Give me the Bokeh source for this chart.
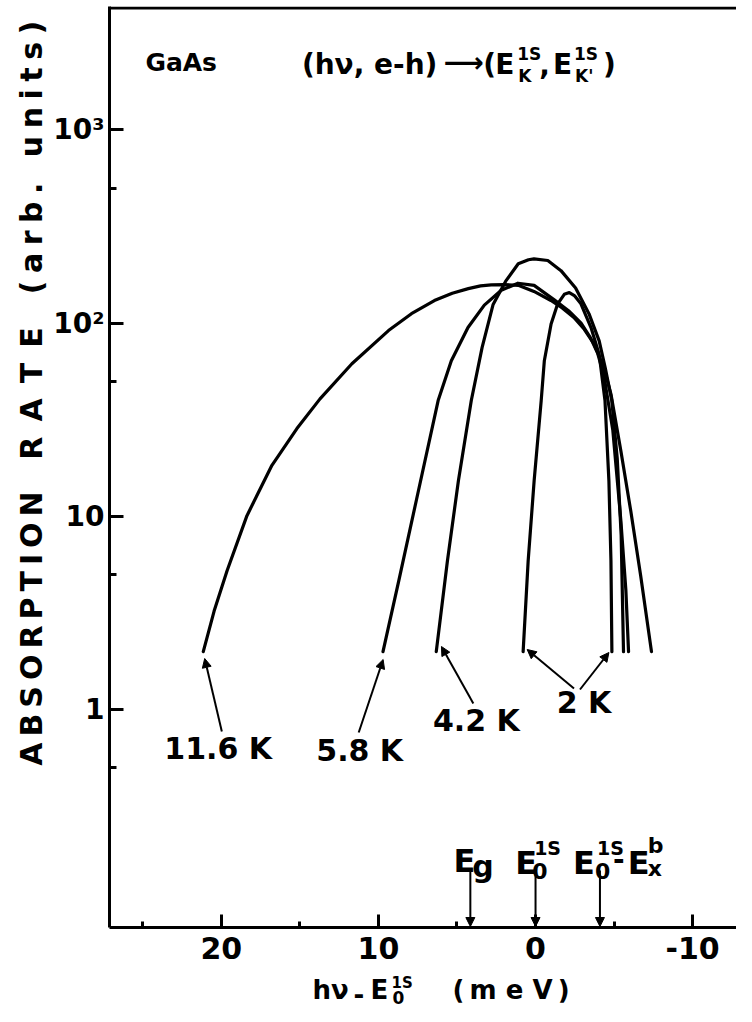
import math
from bokeh.plotting import figure
from bokeh.layouts import column, row
from bokeh.models import Range1d, FixedTicker, Label, Arrow, NormalHead, Span
from bokeh.embed import file_html
from bokeh.resources import INLINE

# ---------------- data ----------------
# x : h nu - E0(1S) in meV  (axis reversed),  y : absorption rate (arb. units, log)
x_116 = [21.15, 20.46, 19.63, 18.37, 16.78, 15.19, 13.72, 11.69, 9.36, 7.9, 6.44, 5.3,
         4.28, 3.5, 2.82, 2.0, 1.10, 0.1, -0.98, -1.7, -2.44, -3.1, -3.71, -4.35,
         -4.80, -5.43, -6.06, -6.69, -7.38]
y_116 = [2.0, 3.24, 5.26, 10.1, 18.4, 28.5, 40.6, 61.7, 91.6, 112, 131, 143,
         151, 156, 158, 158.5, 157, 146, 131, 120, 107, 93, 78.5, 59,
         43, 21.9, 10.7, 4.95, 2.0]

x_58 = [9.71, 8.70, 7.59, 6.20, 5.36, 4.30, 3.26, 2.18, 1.12, 0.09, -1.19, -2.1,
        -2.9, -3.5, -3.95, -4.35, -4.92, -5.43, -5.75, -5.92]
y_58 = [2.0, 4.67, 12.1, 39.8, 64, 95, 124, 148, 161, 157, 132, 116,
        100, 84, 70, 53.6, 27.9, 9.55, 4.15, 2.0]

x_42 = [6.32, 5.61, 4.91, 4.09, 3.4, 2.7, 1.9, 1.1, 0.45, 0.1, -0.78, -1.62,
        -2.55, -3.4, -4.05, -4.45, -4.85, -5.2, -5.45, -5.6]
y_42 = [2.0, 5.89, 15.3, 39.8, 75, 125, 165, 203, 213, 215, 211, 187,
        152, 112, 81, 58, 40, 20, 8, 2.0]

x_2 = [0.79, 0.47, 0.09, -0.36, -0.56, -0.99, -1.41, -1.83, -2.15, -2.47, -2.89,
       -3.53, -4.05, -4.42, -4.67, -4.80, -4.86]
y_2 = [2.0, 5.89, 15.3, 39.8, 64, 99, 126, 141, 144, 139, 126,
       95, 69, 39.8, 15.3, 5.9, 2.0]

curve_labels = ["11.6 K", "5.8 K", "4.2 K", "2 K"]

x_ticks = [20, 10, 0, -10]
x_minor = [25, 15, 5, -5]
x_tick_labels = ["20", "10", "0", "-10"]
y_ticks = [1, 10, 100, 1000]
y_minor = [0.5, 5, 50, 500]
y_tick_labels = ["1", "10", "10²", "10³"]

marker_x = [4.15, 0.0, -4.1]          # E_g, E_0^1S, E_0^1S - E_x^b

# ---------------- geometry ----------------
W, H = 736, 1006          # whole picture
WL = 50                   # strip holding the y-axis title
HM = 972                  # height of the plotting figure
FL, FR, FT, FB = 107, 736, 6, 927   # frame edges (picture pixels)
X0_PX, PX_PER_MEV = 534.4, 15.76
Y1_PX, PX_PER_DEC = 709.3, 193.3
DESC = 0.236              # DejaVu Sans descent (em)


def X(px):
    return (X0_PX - px) / PX_PER_MEV


def Y(py):
    return 10 ** ((Y1_PX - py) / PX_PER_DEC)


FONT = "DejaVu Sans"

p = figure(width=W - WL, height=HM, x_range=Range1d(X(FL), X(FR)),
           y_range=Range1d(Y(FB), Y(FT)), y_axis_type="log",
           output_backend="svg", toolbar_location=None,
           min_border_left=FL - WL, min_border_right=0, min_border_top=FT,
           min_border_bottom=HM - FB)
p.outline_line_color = None
p.grid.visible = False
p.background_fill_color = "white"
p.border_fill_color = "white"

for ax in (p.xaxis[0], p.yaxis[0]):
    ax.axis_line_width = 3
    ax.major_tick_line_width = 3
    ax.minor_tick_line_width = 3
    ax.major_tick_out = 0
    ax.minor_tick_out = 0
    ax.major_label_text_font = FONT
    ax.major_label_text_font_style = "bold"
    ax.major_label_text_color = "black"

p.xaxis.ticker = FixedTicker(ticks=x_ticks, minor_ticks=x_minor)
p.xaxis.major_label_overrides = {t: s for t, s in zip(x_ticks, x_tick_labels)}
p.xaxis.major_tick_in = 13
p.xaxis.minor_tick_in = 6
p.xaxis.major_label_standoff = 9
p.xaxis.major_label_text_font_size = "30px"

p.yaxis.ticker = FixedTicker(ticks=y_ticks, minor_ticks=y_minor)
p.yaxis.major_label_overrides = {t: s for t, s in zip(y_ticks, y_tick_labels)}
p.yaxis.major_tick_in = 14
p.yaxis.minor_tick_in = 7
p.yaxis.major_label_standoff = 5
p.yaxis.major_label_text_font_size = "28px"

# top frame line
p.add_layout(Span(location=Y(FT + 1.5), dimension="width", line_color="black", line_width=3))

# ---------------- curves ----------------
for xs, ys in ((x_116, y_116), (x_58, y_58), (x_42, y_42), (x_2, y_2)):
    p.line(xs, ys, line_color="black", line_width=3.2, line_join="round", line_cap="round")


def txt(px, py, s, size, align="left", baseline="alphabetic"):
    p.add_layout(Label(x=X(px), y=Y(py), text=s, text_font=FONT,
                       text_font_style="bold", text_font_size=f"{size}px",
                       text_color="black", text_align=align,
                       text_baseline=baseline))


def arrow(p0, p1):
    p.add_layout(Arrow(x_start=X(p0[0]), y_start=Y(p0[1]),
                       x_end=X(p1[0]), y_end=Y(p1[1]), line_width=2,
                       line_color="black",
                       end=NormalHead(size=9, fill_color="black", line_color="black")))


# curve labels + arrows
label_pos = [(216, 748), (358, 750), (475, 720), (583, 702)]
for (cx, cy), s in zip(label_pos, curve_labels):
    txt(cx, cy, s, 30, align="center", baseline="middle")
arrow((219.7, 731), (202.5, 658))
arrow((357, 732), (381.5, 659))
arrow((472, 703), (440, 646))
arrow((573, 688), (526, 649))
arrow((579, 689), (608, 652))

# energy markers on the bottom axis
for mx in marker_x:
    p.add_layout(Arrow(x_start=mx, y_start=Y(870), x_end=mx, y_end=Y(926),
                       line_width=2, line_color="black",
                       end=NormalHead(size=9, fill_color="black", line_color="black")))
txt(452, 860, "E", 32)
txt(471, 866, "g", 30)
txt(514, 862, "E", 32)
txt(533, 847, "1S", 19)
txt(531, 870, "0", 22)
txt(572, 862, "E", 32)
txt(596, 847, "1S", 19)
txt(594, 870, "0", 22)
txt(612, 858, "-", 28)
txt(627, 862, "E", 32)
txt(647, 845, "b", 22)
txt(647, 868, "x", 22)

# title
txt(143, 62, "GaAs", 25)
txt(300, 64, "(hν, e-h)", 28)
txt(442, 62, "⟶", 28)
txt(482, 64, "(", 28)
txt(494, 64, "E", 28)
txt(516, 53, "1S", 17)
txt(517, 75, "K", 17)
txt(538, 64, ",", 28)
txt(552, 64, "E", 28)
txt(573, 53, "1S", 17)
txt(574, 75, "K'", 17)
txt(602, 64, ")", 28)

# ---------------- y-axis title strip ----------------
# its frame is aligned by the row with the main frame (FT..FB)
py_ = figure(width=WL, height=HM, x_range=Range1d(0, WL), y_range=Range1d(HM - FB, HM - FT),
             output_backend="svg", toolbar_location=None, min_border=0,
             x_axis_location=None, y_axis_location=None)
py_.outline_line_color = None
py_.grid.visible = False

ylab_words = [
    ("\u2009".join("ABSORPTION"), 628),
    ("\u2002".join("RATE"), 393),
    ("\u2005".join("(arb.") + "\u2005\u00a0\u2005" + "\u2005".join("units)"), 157),
]
for s, yc in ylab_words:
    py_.add_layout(Label(x=31, y=HM - yc, text=s, angle=math.pi / 2,
                         text_font=FONT, text_font_style="bold", text_font_size="30px",
                         text_color="black", text_align="center", text_baseline="middle"))

# ---------------- x-axis title strip ----------------
HX = H - HM
px_ = figure(width=W, height=HX, x_range=Range1d(0, W), y_range=Range1d(0, HX),
             output_backend="svg", toolbar_location=None, min_border=0,
             x_axis_location=None, y_axis_location=None)
px_.outline_line_color = None
px_.grid.visible = False


def xt(x, py, s, size):
    # py is the alphabetic baseline; anchor the text by its bottom edge
    px_.add_layout(Label(x=x, y=H - (py + DESC * size), text=s, text_font=FONT,
                         text_font_style="bold", text_font_size=f"{size}px",
                         text_color="black", text_align="left",
                         text_baseline="bottom"))


xt(312, 998, "hν", 26)
xt(353, 997, "-", 26)
xt(370, 998, "E", 26)
xt(391, 988, "1S", 15)
xt(392, 999, "0", 17)
xt(452, 998, "(\u2009m\u00a0e\u00a0V\u2009)", 26)

layout = column(row(py_, p), px_)
open("out.html", "w").write(file_html(layout, INLINE))
